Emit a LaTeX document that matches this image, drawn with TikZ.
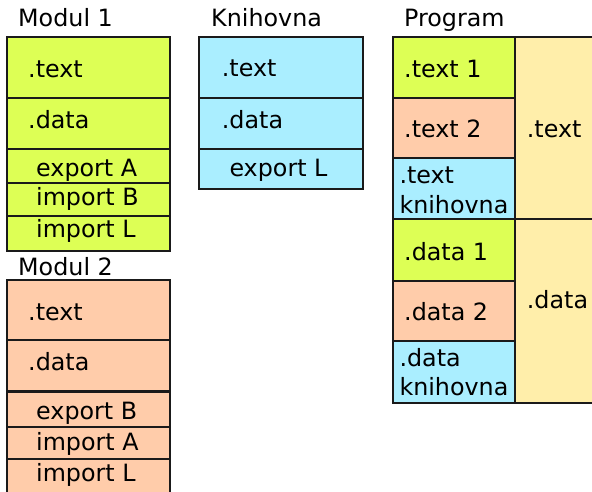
\documentclass[tikz,border=0pt]{standalone}
\usepackage{fontspec}
\setmainfont{DejaVu Sans}
\definecolor{cgreen}{HTML}{DDFF55}
\definecolor{cpeach}{HTML}{FFCCAA}
\definecolor{ccyan}{HTML}{AAEEFF}
\definecolor{cyell}{HTML}{FFEEAA}
\definecolor{edge}{HTML}{1A1A1A}
\tikzset{
  cell/.style={draw=edge, line width=2.2pt, anchor=north west, inner sep=0pt, outer sep=0pt},
  lbl/.style={anchor=base west, inner sep=0pt, font=\fontsize{23.8}{28}\selectfont},
}
\begin{document}
\begin{tikzpicture}[x=1pt, y=-1pt]
\useasboundingbox (0,0) rectangle (592,492);
\clip (0,0) rectangle (592,492);

% Modul 1
\node[lbl] (m1title) at (18,26.7) {Modul 1};
\node[cell, fill=cgreen, minimum width=163pt, minimum height=61pt] (m1t) at (7,37) {};
\node[cell, fill=cgreen, minimum width=163pt, minimum height=51pt] (m1d) at (7,98) {};
\node[cell, fill=cgreen, minimum width=163pt, minimum height=34pt] (m1e) at (7,149) {};
\node[cell, fill=cgreen, minimum width=163pt, minimum height=33pt] (m1ib) at (7,183) {};
\node[cell, fill=cgreen, minimum width=163pt, minimum height=35pt] (m1il) at (7,216) {};
\node[lbl] (m1tl) at (28,77.3) {.text};
\node[lbl] (m1dl) at (28,128.3) {.data};
\node[lbl] (m1el) at (36,176) {export A};
\node[lbl] (m1ibl) at (36,205.5) {import B};
\node[lbl] (m1ill) at (36,237.7) {import L};

% Modul 2
\node[lbl] (m2title) at (18,275) {Modul 2};
\node[cell, fill=cpeach, minimum width=163pt, minimum height=60pt] (m2t) at (7,280) {};
\node[cell, fill=cpeach, minimum width=163pt, minimum height=51pt] (m2d) at (7,340) {};
\node[cell, fill=cpeach, minimum width=163pt, minimum height=35pt] (m2e) at (7,392) {};
\node[cell, fill=cpeach, minimum width=163pt, minimum height=32pt] (m2ia) at (7,427) {};
\node[cell, fill=cpeach, minimum width=163pt, minimum height=45pt] (m2il) at (7,459) {};
\node[lbl] (m2tl) at (28,320) {.text};
\node[lbl] (m2dl) at (28,370) {.data};
\node[lbl] (m2el) at (36,419.3) {export B};
\node[lbl] (m2ial) at (36,450) {import A};
\node[lbl] (m2ill) at (36,481) {import L};

% Knihovna
\node[lbl] (kntitle) at (211,26.7) {Knihovna};
\node[cell, fill=ccyan, minimum width=163.5pt, minimum height=61pt] (knt) at (199.3,37) {};
\node[cell, fill=ccyan, minimum width=163.5pt, minimum height=51pt] (knd) at (199.3,98) {};
\node[cell, fill=ccyan, minimum width=163.5pt, minimum height=40pt] (kne) at (199.3,149) {};
\node[lbl] (kntl) at (221.7,76.7) {.text};
\node[lbl] (kndl) at (221.7,128.3) {.data};
\node[lbl] (knel) at (229.3,176.7) {export L};

% Program
\node[lbl] (prtitle) at (404,26.7) {Program};
\node[cell, fill=cyell, minimum width=110pt, minimum height=182pt] (prT) at (515.3,37) {};
\node[cell, fill=cyell, minimum width=110pt, minimum height=184pt] (prD) at (515.3,219) {};
\node[cell, fill=cgreen, minimum width=122.6pt, minimum height=61pt] (pt1) at (392.7,37) {};
\node[cell, fill=cpeach, minimum width=122.6pt, minimum height=60pt] (pt2) at (392.7,98) {};
\node[cell, fill=ccyan, minimum width=122.6pt, minimum height=61pt] (ptk) at (392.7,158) {};
\node[cell, fill=cgreen, minimum width=122.6pt, minimum height=62pt] (pd1) at (392.7,219) {};
\node[cell, fill=cpeach, minimum width=122.6pt, minimum height=60pt] (pd2) at (392.7,281) {};
\node[cell, fill=ccyan, minimum width=122.6pt, minimum height=62pt] (pdk) at (392.7,341) {};
\node[lbl] (pt1l) at (404,77.3) {.text 1};
\node[lbl] (pt2l) at (404,137.3) {.text 2};
\node[lbl] (ptkl) at (399.3,183.3) {.text};
\node[lbl] (ptkl2) at (399.3,213.3) {knihovna};
\node[lbl] (pd1l) at (404,260) {.data 1};
\node[lbl] (pd2l) at (404,320) {.data 2};
\node[lbl] (pdkl) at (399.3,366.7) {.data};
\node[lbl] (pdkl2) at (399.3,395) {knihovna};
\node[lbl] (prTl) at (526.7,137.3) {.text};
\node[lbl] (prDl) at (526.7,308.3) {.data};
\end{tikzpicture}
\end{document}
